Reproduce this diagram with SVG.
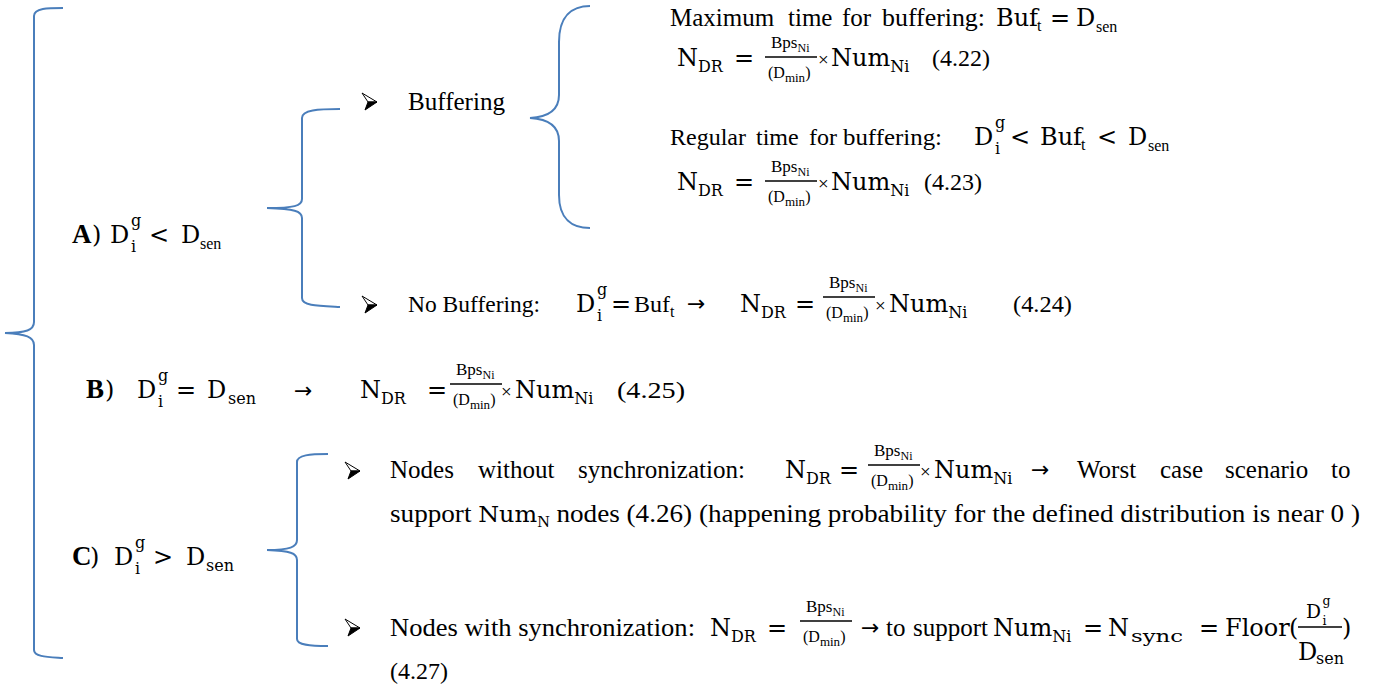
<svg xmlns="http://www.w3.org/2000/svg" width="1374" height="687" viewBox="0 0 1374 687">
<style>
  text { font-family: "Liberation Serif", "Times New Roman", serif; fill: #000; }
  .t { font-size: 24px; }
  .c { font-size: 25px; }
  .m { font-family: "DejaVu Serif", serif; font-size: 24px; }
  .ms { font-family: "DejaVu Serif", serif; font-size: 16px; }
  .ts { font-size: 16px; }
  .b { font-weight: bold; font-size: 27px; }
  .arr { font-family: "DejaVu Sans", sans-serif; font-size: 22px; }
  .x { font-size: 19px; }
  .brace { fill: none; stroke: #4a7ebb; stroke-width: 2; }
  .bar { stroke: #000; stroke-width: 1.4; }
</style>
<defs>
  <!-- Bps_Ni / (D_min), origin at the left end of the fraction bar -->
  <g id="frac">
    <line class="bar" x1="0" y1="0" x2="52" y2="0"/>
    <text x="6" y="-9" font-size="17">Bps<tspan font-size="12" dy="4">Ni</tspan></text>
    <text x="3" y="21" font-size="16">(D<tspan font-size="13" dy="4">min</tspan><tspan dy="-4">)</tspan></text>
  </g>
  <!-- D with subscript i and superscript g, origin on the baseline -->
  <g id="dig">
    <text class="m" font-size="26" x="0" y="0">D</text>
    <text class="ms" font-size="18" x="21" y="-17">g</text>
    <text class="ms" font-size="17" x="21" y="9">i</text>
  </g>
  <!-- three-dimensional arrowhead bullet -->
  <g id="bullet">
    <path d="M0,0 L15,9 L6,9 Z" fill="#fff" stroke="#000" stroke-width="1" stroke-linejoin="round"/>
    <path d="M6,9 L15,9 L3,17 Z" fill="#000" stroke="#000" stroke-width="1" stroke-linejoin="round"/>
  </g>
</defs>

<!-- braces -->
<g id="connectors">
  <path class="brace" d="M63,8 C48,8 34,8 34,16 L34,322 C34,330 26,333 5,333 C26,334 34,337 34,345 L34,650 C34,657 48,657 63,658"/>
  <path class="brace" d="M340,109 C318,109 302,110 302,118 L302,199 C302,206 294,208 267,208 C294,209 302,211 302,218 L302,298 C302,306 318,306 340,307"/>
  <path class="brace" d="M590,6 C572,6 559,16 559,42 L559,95 C559,110 548,117 530,118 C548,119 559,126 559,141 L559,195 C559,219 572,228 590,228"/>
  <path class="brace" d="M328,454 C310,454 297,455 297,462 L297,540 C297,547 290,550 267,550 C290,551 297,553 297,560 L297,639 C297,645 310,646 328,646"/>
</g>

<!-- case A -->
<g id="caseA">
  <text class="b" x="72" y="243">A</text>
  <text class="m" x="92" y="243">)</text>
  <use href="#dig" x="110" y="243"/>
  <text class="m" x="149" y="243">&lt;</text>
  <text class="m" font-size="25" x="181" y="243">D</text>
  <text class="ts" font-size="18" x="200" y="249">sen</text>
</g>

<!-- buffering branch -->
<g id="buffering">
  <use href="#bullet" x="362" y="93"/>
  <text class="c" x="408" y="110" textLength="97" lengthAdjust="spacingAndGlyphs">Buffering</text>
</g>

<!-- maximum buffering time -->
<g id="maxBuffering">
  <text class="c" x="670" y="26">Maximum</text>
  <text class="c" x="788" y="26">time</text>
  <text class="c" x="842" y="26">for</text>
  <text class="c" x="882" y="26" textLength="103" lengthAdjust="spacingAndGlyphs">buffering:</text>
  <text class="m" font-size="22" x="996" y="26">Buf</text>
  <text class="ts" font-size="15" x="1037" y="31">t</text>
  <text class="m" font-size="22" x="1050" y="26">=</text>
  <text class="m" font-size="23" x="1076" y="26">D</text>
  <text class="ts" font-size="18" x="1096" y="32">sen</text>

  <text class="m" font-size="25" x="677" y="66">N<tspan class="ms" font-size="17" dy="6">DR</tspan></text>
  <text class="m" x="734" y="66">=</text>
  <use href="#frac" x="765" y="57"/>
  <text class="x" x="818" y="66">×</text>
  <text class="m" font-size="23" x="831" y="66">Num<tspan class="ms" dy="6">Ni</tspan></text>
  <text class="t" font-size="23" x="932" y="66" textLength="58" lengthAdjust="spacingAndGlyphs">(4.22)</text>
</g>

<!-- regular buffering time -->
<g id="regularBuffering">
  <text class="t" x="670" y="145">Regular</text>
  <text class="t" x="756" y="145">time</text>
  <text class="t" x="809" y="145">for</text>
  <text class="t" x="843" y="145" textLength="99" lengthAdjust="spacingAndGlyphs">buffering:</text>
  <use href="#dig" x="974" y="145"/>
  <text class="m" x="1010" y="145">&lt;</text>
  <text class="m" font-size="22" x="1040" y="145">Buf</text>
  <text class="ts" font-size="15" x="1081" y="150">t</text>
  <text class="m" x="1097" y="145">&lt;</text>
  <text class="m" font-size="23" x="1128" y="145">D</text>
  <text class="ts" font-size="18" x="1148" y="151">sen</text>

  <text class="m" font-size="25" x="677" y="190">N<tspan class="ms" font-size="17" dy="6">DR</tspan></text>
  <text class="m" x="734" y="190">=</text>
  <use href="#frac" x="765" y="181"/>
  <text class="x" x="818" y="190">×</text>
  <text class="m" font-size="23" x="831" y="190">Num<tspan class="ms" dy="6">Ni</tspan></text>
  <text class="t" font-size="23" x="924" y="190" textLength="58" lengthAdjust="spacingAndGlyphs">(4.23)</text>
</g>

<!-- no buffering branch -->
<g id="noBuffering">
  <use href="#bullet" x="362" y="296"/>
  <text class="t" font-size="25" x="408" y="312" textLength="132" lengthAdjust="spacingAndGlyphs">No Buffering:</text>
  <use href="#dig" x="576" y="312"/>
  <text class="m" font-size="21" x="611" y="312">=</text>
  <text class="t" x="634" y="312">Buf</text>
  <text class="ts" font-size="15" x="670" y="317">t</text>
  <text class="arr" font-size="20" x="687" y="311">→</text>
  <text class="m" font-size="25" x="740" y="312">N<tspan class="ms" font-size="17" dy="6">DR</tspan></text>
  <text class="m" x="795" y="312">=</text>
  <use href="#frac" x="823" y="297"/>
  <text class="x" x="875" y="312">×</text>
  <text class="m" font-size="23" x="889" y="312">Num<tspan class="ms" dy="6">Ni</tspan></text>
  <text class="t" x="1013" y="312" textLength="59" lengthAdjust="spacingAndGlyphs">(4.24)</text>
</g>

<!-- case B -->
<g id="caseB">
  <text class="b" x="86" y="398">B</text>
  <text class="m" x="105" y="398">)</text>
  <use href="#dig" x="137" y="398"/>
  <text class="m" font-size="25" x="176" y="398">=</text>
  <text class="m" font-size="25" x="207" y="398">D</text>
  <text class="ms" font-size="19" x="228" y="404">sen</text>
  <text class="arr" font-size="26" x="294" y="398">→</text>
  <text class="m" font-size="26" x="360" y="398">N<tspan class="ms" font-size="18" dy="6">DR</tspan></text>
  <text class="m" x="427" y="398">=</text>
  <use href="#frac" x="450" y="384"/>
  <text class="x" x="501" y="398">×</text>
  <text class="m" font-size="23" x="515" y="398">Num<tspan class="ms" dy="6">Ni</tspan></text>
  <text class="t" font-size="26" x="617" y="398" textLength="68" lengthAdjust="spacingAndGlyphs">(4.25)</text>
</g>

<!-- case C -->
<g id="caseC">
  <text class="b" x="72" y="565">C</text>
  <text class="m" x="90" y="565">)</text>
  <use href="#dig" x="114" y="565"/>
  <text class="m" font-size="25" x="153" y="565">&gt;</text>
  <text class="m" font-size="25" x="186" y="565">D</text>
  <text class="ms" font-size="19" x="206" y="571">sen</text>
</g>

<!-- nodes without synchronization -->
<g id="noSync">
  <use href="#bullet" x="345" y="462"/>
  <text class="c" x="390" y="478">Nodes</text>
  <text class="c" x="478" y="478">without</text>
  <text class="c" x="578" y="478" textLength="167" lengthAdjust="spacingAndGlyphs">synchronization:</text>
  <text class="m" font-size="25" x="785" y="478">N<tspan class="ms" font-size="17" dy="6">DR</tspan></text>
  <text class="m" x="839" y="478">=</text>
  <use href="#frac" x="868" y="465"/>
  <text class="x" x="920" y="478">×</text>
  <text class="m" font-size="23" x="934" y="478">Num<tspan class="ms" dy="6">Ni</tspan></text>
  <text class="arr" font-size="20" x="1031" y="477">→</text>
  <text class="c" x="1077" y="478">Worst</text>
  <text class="c" x="1160" y="478">case</text>
  <text class="c" x="1225" y="478">scenario</text>
  <text class="c" x="1331" y="478">to</text>
  <text class="c" font-size="26" x="390" y="522" textLength="970" lengthAdjust="spacingAndGlyphs">support <tspan font-family="DejaVu Serif, serif" font-size="22">Num</tspan><tspan font-size="16" dy="5">N</tspan><tspan dy="-5"> nodes (4.26) (happening probability for the defined distribution is near 0 )</tspan></text>
</g>

<!-- nodes with synchronization -->
<g id="withSync">
  <use href="#bullet" x="345" y="619"/>
  <text class="c" font-size="26" x="390" y="636" textLength="305" lengthAdjust="spacingAndGlyphs">Nodes with synchronization:</text>
  <text class="m" font-size="25" x="710" y="636">N<tspan class="ms" font-size="17" dy="6">DR</tspan></text>
  <text class="m" x="767" y="636">=</text>
  <use href="#frac" x="800" y="621"/>
  <text class="arr" font-size="20" x="861" y="635">→</text>
  <text class="c" x="886" y="636">to</text>
  <text class="c" x="913" y="636">support</text>
  <text class="m" font-size="23" x="993" y="636">Num<tspan class="ms" dy="6">Ni</tspan></text>
  <text class="m" x="1083" y="636">=</text>
  <text class="m" font-size="25" x="1108" y="636">N</text>
  <text class="ms" font-size="19" x="1131" y="642" textLength="52" lengthAdjust="spacingAndGlyphs">sync</text>
  <text class="m" x="1199" y="636">=</text>
  <text class="m" x="1225" y="636">Floor</text>
  <text class="m" x="1289" y="636">(</text>
  <line class="bar" x1="1298" y1="627" x2="1342" y2="627"/>
  <use href="#dig" transform="translate(1306,618) scale(0.78)"/>
  <text class="m" font-size="19" x="1298" y="660">D</text>
  <text class="ms" font-size="14" x="1316" y="664">sen</text>
  <text class="m" x="1342" y="636">)</text>
  <text class="t" x="390" y="679" textLength="58" lengthAdjust="spacingAndGlyphs">(4.27)</text>
</g>
</svg>
